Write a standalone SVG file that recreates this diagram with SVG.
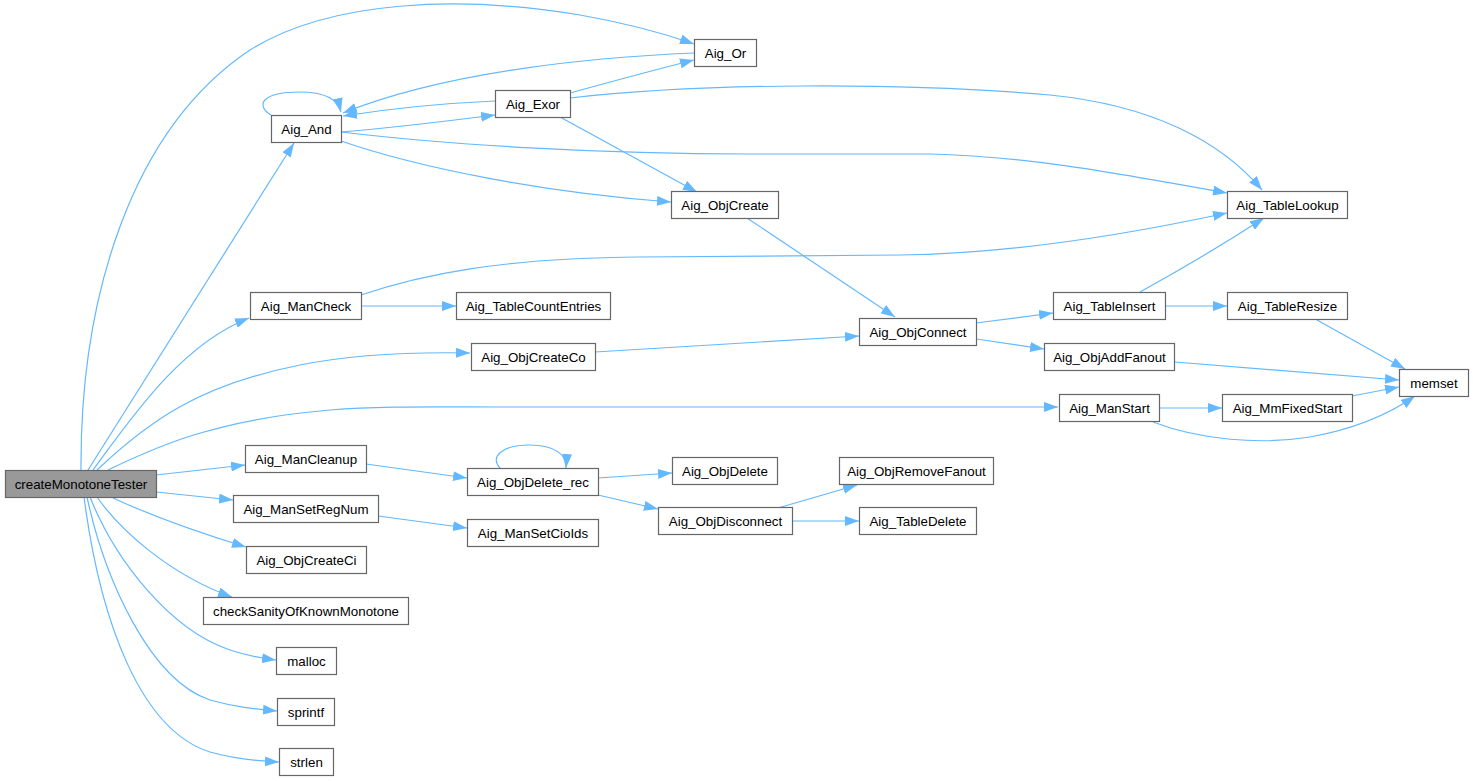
<svg xmlns="http://www.w3.org/2000/svg" width="1473" height="781" viewBox="0 0 1473 781">
<style>
.n rect{fill:#fff;stroke:#666;stroke-width:1.2}
.n.root rect{fill:#999}
.n text{font-family:"Liberation Sans",Arial,sans-serif;font-size:13.33px;fill:#000;text-anchor:middle}
#edges path{fill:none;stroke:#63b8ff;stroke-width:1.2;marker-end:url(#ah)}
</style>
<defs>
<marker id="ah" viewBox="0 0 14 10" refX="14" refY="5" markerWidth="14" markerHeight="10" markerUnits="userSpaceOnUse" orient="auto">
<path d="M0,0 L14,5 L0,10 z" fill="#63b8ff"/>
</marker>
</defs>
<rect width="1473" height="781" fill="#fff"/>
<g id="edges">
<path d="M81,470 C 80,300 130,130 250,50 C 330,0 460,-5 580,15 C 620,22 660,32 694,44"/>
<path d="M88,470 L294,143"/>
<path d="M93,470 C 130,420 180,345 249,318"/>
<path d="M97,470 C 150,420 200,385 300,365 C 360,353 420,352 470,353"/>
<path d="M108,470 C 150,450 210,420 330,410 C 380,406 430,407 500,407 L1058,407"/>
<path d="M156,475 L245,465"/>
<path d="M156,492 L233,500"/>
<path d="M113,498 C 150,515 200,533 246,547"/>
<path d="M97,497 C 120,530 170,575 232,597"/>
<path d="M90,497 C 115,560 170,630 230,650 C 245,655 260,658 276,660"/>
<path d="M87,497 C 105,580 150,680 210,700 C 235,707 255,709 277,711"/>
<path d="M84,497 C 100,620 140,730 210,752 C 235,759 255,761 279,762"/>
<path d="M271,115 C 255,105 262,92 300,92 C 325,92 338,100 341,112"/>
<path d="M341,132 C 390,128 440,122 495,115"/>
<path d="M495,101 C 450,103 400,107 343,116"/>
<path d="M694,53 C 600,57 450,70 343,113"/>
<path d="M341,132 C 450,145 600,154 750,154 L930,154 C 1020,156 1100,170 1227,193"/>
<path d="M341,141 C 420,168 540,192 671,202"/>
<path d="M570,93 C 610,82 650,71 694,60"/>
<path d="M570,98 C 700,83 900,82 1050,95 C 1150,105 1220,140 1262,190"/>
<path d="M560,117 L697,192"/>
<path d="M747,218 L895,317"/>
<path d="M361,295 C 420,275 500,258 640,257 L900,255 C 1000,254 1120,236 1227,213"/>
<path d="M361,306 L456,306"/>
<path d="M595,352 L859,336"/>
<path d="M976,323 L1053,313"/>
<path d="M976,339 L1044,349"/>
<path d="M1140,292 C 1180,270 1230,240 1264,218"/>
<path d="M1165,306 L1227,306"/>
<path d="M1317,320 L1405,369"/>
<path d="M1175,362 L1399,380"/>
<path d="M1159,408 L1222,408"/>
<path d="M1352,396 L1399,387"/>
<path d="M1153,422 C 1200,440 1260,445 1310,437 C 1360,428 1395,410 1415,396"/>
<path d="M366,464 L467,478"/>
<path d="M378,516 L467,528"/>
<path d="M500,468 C 490,458 500,445 530,445 C 555,445 567,455 566,468"/>
<path d="M598,478 L672,473"/>
<path d="M598,495 L658,509"/>
<path d="M778,508 L857,485"/>
<path d="M792,521 L859,521"/>
</g>
<g id="createMonotoneTester" class="n root"><rect x="5.5" y="470.5" width="151" height="27"/><text x="81" y="488.5">createMonotoneTester</text></g>
<g id="Aig_Or" class="n"><rect x="694.5" y="39.5" width="62" height="27"/><text x="725.5" y="57.5">Aig_Or</text></g>
<g id="Aig_And" class="n"><rect x="271.5" y="115.5" width="70" height="27"/><text x="306.5" y="133.5">Aig_And</text></g>
<g id="Aig_Exor" class="n"><rect x="495.5" y="90.5" width="75" height="27"/><text x="533" y="108.5">Aig_Exor</text></g>
<g id="Aig_ObjCreate" class="n"><rect x="671.5" y="191.5" width="107" height="27"/><text x="725" y="209.5">Aig_ObjCreate</text></g>
<g id="Aig_TableLookup" class="n"><rect x="1227.5" y="191.5" width="120" height="27"/><text x="1287.5" y="209.5">Aig_TableLookup</text></g>
<g id="Aig_ManCheck" class="n"><rect x="250.5" y="292.5" width="111" height="27"/><text x="306" y="310.5">Aig_ManCheck</text></g>
<g id="Aig_TableCountEntries" class="n"><rect x="456.5" y="292.5" width="154" height="27"/><text x="533.5" y="310.5">Aig_TableCountEntries</text></g>
<g id="Aig_ObjCreateCo" class="n"><rect x="471.5" y="343.5" width="124" height="27"/><text x="533.5" y="361.5">Aig_ObjCreateCo</text></g>
<g id="Aig_ObjConnect" class="n"><rect x="859.5" y="318.5" width="117" height="27"/><text x="918" y="336.5">Aig_ObjConnect</text></g>
<g id="Aig_TableInsert" class="n"><rect x="1053.5" y="292.5" width="112" height="27"/><text x="1109.5" y="310.5">Aig_TableInsert</text></g>
<g id="Aig_TableResize" class="n"><rect x="1227.5" y="292.5" width="120" height="27"/><text x="1287.5" y="310.5">Aig_TableResize</text></g>
<g id="Aig_ObjAddFanout" class="n"><rect x="1044.5" y="343.5" width="130" height="27"/><text x="1109.5" y="361.5">Aig_ObjAddFanout</text></g>
<g id="memset" class="n"><rect x="1399.5" y="369.5" width="69" height="27"/><text x="1434" y="387.5">memset</text></g>
<g id="Aig_ManStart" class="n"><rect x="1059.5" y="394.5" width="100" height="27"/><text x="1109.5" y="412.5">Aig_ManStart</text></g>
<g id="Aig_MmFixedStart" class="n"><rect x="1222.5" y="394.5" width="130" height="27"/><text x="1287.5" y="412.5">Aig_MmFixedStart</text></g>
<g id="Aig_ManCleanup" class="n"><rect x="245.5" y="445.5" width="121" height="27"/><text x="306" y="463.5">Aig_ManCleanup</text></g>
<g id="Aig_ObjDelete_rec" class="n"><rect x="467.5" y="468.5" width="131" height="27"/><text x="533" y="486.5">Aig_ObjDelete_rec</text></g>
<g id="Aig_ObjDelete" class="n"><rect x="672.5" y="457.5" width="105" height="27"/><text x="725" y="475.5">Aig_ObjDelete</text></g>
<g id="Aig_ObjRemoveFanout" class="n"><rect x="839.5" y="457.5" width="154" height="27"/><text x="916.5" y="475.5">Aig_ObjRemoveFanout</text></g>
<g id="Aig_ObjDisconnect" class="n"><rect x="658.5" y="507.5" width="134" height="27"/><text x="725.5" y="525.5">Aig_ObjDisconnect</text></g>
<g id="Aig_TableDelete" class="n"><rect x="859.5" y="507.5" width="117" height="27"/><text x="918" y="525.5">Aig_TableDelete</text></g>
<g id="Aig_ManSetRegNum" class="n"><rect x="233.5" y="495.5" width="145" height="27"/><text x="306" y="513.5">Aig_ManSetRegNum</text></g>
<g id="Aig_ManSetCioIds" class="n"><rect x="467.5" y="519.5" width="131" height="27"/><text x="533" y="537.5">Aig_ManSetCioIds</text></g>
<g id="Aig_ObjCreateCi" class="n"><rect x="246.5" y="546.5" width="120" height="27"/><text x="306.5" y="564.5">Aig_ObjCreateCi</text></g>
<g id="checkSanityOfKnownMonotone" class="n"><rect x="203.5" y="597.5" width="205" height="27"/><text x="306" y="615.5">checkSanityOfKnownMonotone</text></g>
<g id="malloc" class="n"><rect x="276.5" y="647.5" width="60" height="27"/><text x="306.5" y="665.5">malloc</text></g>
<g id="sprintf" class="n"><rect x="277.5" y="698.5" width="57" height="27"/><text x="306" y="716.5">sprintf</text></g>
<g id="strlen" class="n"><rect x="279.5" y="748.5" width="54" height="27"/><text x="306.5" y="766.5">strlen</text></g>
</svg>
